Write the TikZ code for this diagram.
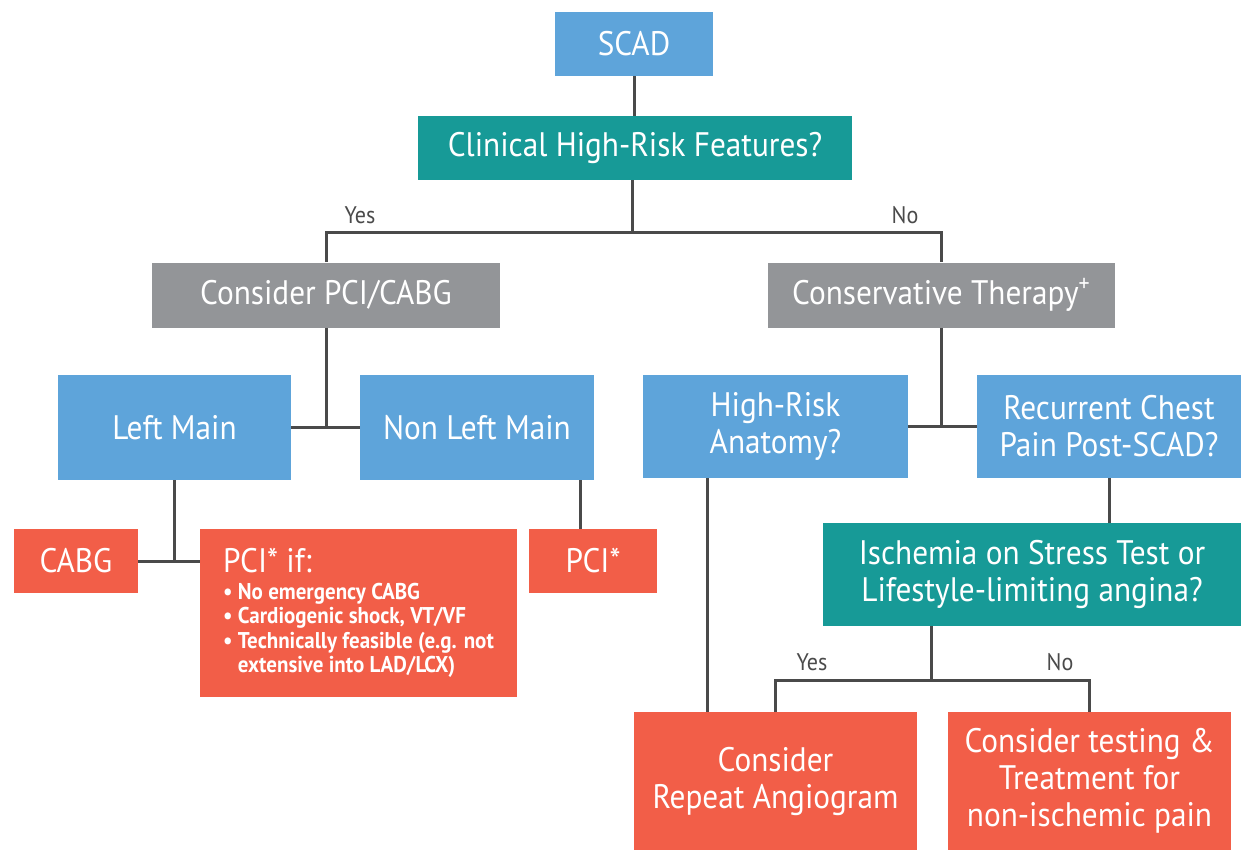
\documentclass[tikz,border=0pt]{standalone}
\usepackage{fontspec}
\setmainfont{PT Sans}[FakeStretch=0.92]
\usepackage{tikz}
\usetikzlibrary{positioning, calc}
\definecolor{scadblue}{HTML}{5EA4DA}
\definecolor{scadteal}{HTML}{179A97}
\definecolor{scadgray}{HTML}{939598}
\definecolor{scadred}{HTML}{F25E48}
\definecolor{wiregray}{HTML}{4A4A4A}
\tikzset{box/.style={fill=#1, text=white, align=center, inner sep=0pt, font=\fontsize{17}{18.5}\selectfont}}
\tikzset{answer/.style={text=wiregray, inner sep=0pt, font=\fontsize{12}{14}\selectfont}}
\newcommand{\bull}[1]{\textbullet\ #1}

\begin{document}
\begin{tikzpicture}[x=0.5pt, y=-0.5pt, wire/.style={draw=wiregray, line width=1.5pt}]
                \useasboundingbox (0, 0) rectangle (1243, 857);
                % top of the tree
                \node[box=scadblue, minimum width=79pt, minimum height=32pt] (scad) at (634, 44) {SCAD};
                \node[box=scadteal, minimum width=217pt, minimum height=32pt] (clinical) at (635, 148) {Clinical High-Risk Features?};
                \node[box=scadgray, minimum width=174pt, minimum height=32.5pt] (pcicabg) at (326, 295) {Consider PCI/CABG};
                \node[box=scadgray, minimum width=173.5pt, minimum height=32.5pt] (conservative) at (941.5, 295) {Conservative Therapy\textsuperscript{+}};
                \node[answer] (yesA) at (360, 215) {Yes};
                \node[answer] (noA) at (905, 215) {No};
                % left branch
                \node[box=scadblue, minimum width=116.5pt, minimum height=52.5pt] (leftmain) at (174.5, 427.5) {Left Main};
                \node[box=scadblue, minimum width=117pt, minimum height=52.5pt] (nonleft) at (477, 427.5) {Non Left Main};
                \node[box=scadred, minimum width=62pt, minimum height=32pt] (cabg) at (76, 561) {CABG};
                \node[box=scadred, minimum width=64pt, minimum height=32pt] (pcistar) at (593, 561) {PCI*};
                \node[box=scadred, minimum width=158.5pt, minimum height=84pt, align=left, font=\bfseries\fontsize{11.4}{12.25}\selectfont] (pcif) at (358.5, 613)
                    {{\mdseries\fontsize{17}{18.5}\selectfont PCI* if:}\\[1.25pt]
                     \bull{No emergency CABG}\\
                     \bull{Cardiogenic shock, VT/VF}\\
                     \bull{Technically feasible (e.g. not}\\
                     \phantom{\textbullet\ }extensive into LAD/LCX)};
                % right branch
                \node[box=scadblue, minimum width=132.5pt, minimum height=51.5pt] (anatomy) at (775.5, 426.5) {High-Risk\\Anatomy?};
                \node[box=scadblue, minimum width=132pt, minimum height=51.5pt] (recurrent) at (1109, 426.5) {Recurrent Chest\\Pain Post-SCAD?};
                \node[box=scadteal, minimum width=209pt, minimum height=51.5pt] (ischemia) at (1032, 574.5) {Ischemia on Stress Test or\\Lifestyle-limiting angina?};
                \node[box=scadred, minimum width=141.5pt, minimum height=69pt] (angio) at (775.5, 781) {Consider\\Repeat Angiogram};
                \node[box=scadred, minimum width=141.5pt, minimum height=69pt] (testing) at (1089.5, 781) {Consider testing \&\\Treatment for\\non-ischemic pain};
                \node[answer] (yesB) at (812, 662) {Yes};
                \node[answer] (noB) at (1060, 662) {No};
                % connectors
                \coordinate (forktop) at (632, 232);
                \coordinate (forkbot) at (931, 680);
                \draw[wire] (scad.south) -- (scad.south |- clinical.north);
                \draw[wire] (clinical.south -| forktop) -- (forktop);
                \draw[wire] (pcicabg.north) |- (forktop) -| (conservative.north);
                \draw[wire] (leftmain.east) -- (nonleft.west);
                \draw[wire] (pcicabg.south) -- (pcicabg.south |- leftmain.east);
                \draw[wire] (cabg.east) -- (cabg.east -| pcif.west);
                \draw[wire] (leftmain.south) -- (leftmain.south |- cabg.east);
                \draw[wire] ([xshift=-6.5pt]pcistar.north) -- ([xshift=-6.5pt]pcistar.north |- nonleft.south);
                \draw[wire] (anatomy.east) -- (recurrent.west);
                \draw[wire] (conservative.south) -- (conservative.south |- anatomy.east);
                \draw[wire] ([xshift=-34pt]anatomy.south) -- ([xshift=-34pt]anatomy.south |- angio.north);
                \draw[wire] (recurrent.south) -- (recurrent.south |- ischemia.north);
                \draw[wire] (ischemia.south -| forkbot) -- (forkbot);
                \draw[wire] (angio.north) |- (forkbot) -| (testing.north);
            \end{tikzpicture}
\end{document}
